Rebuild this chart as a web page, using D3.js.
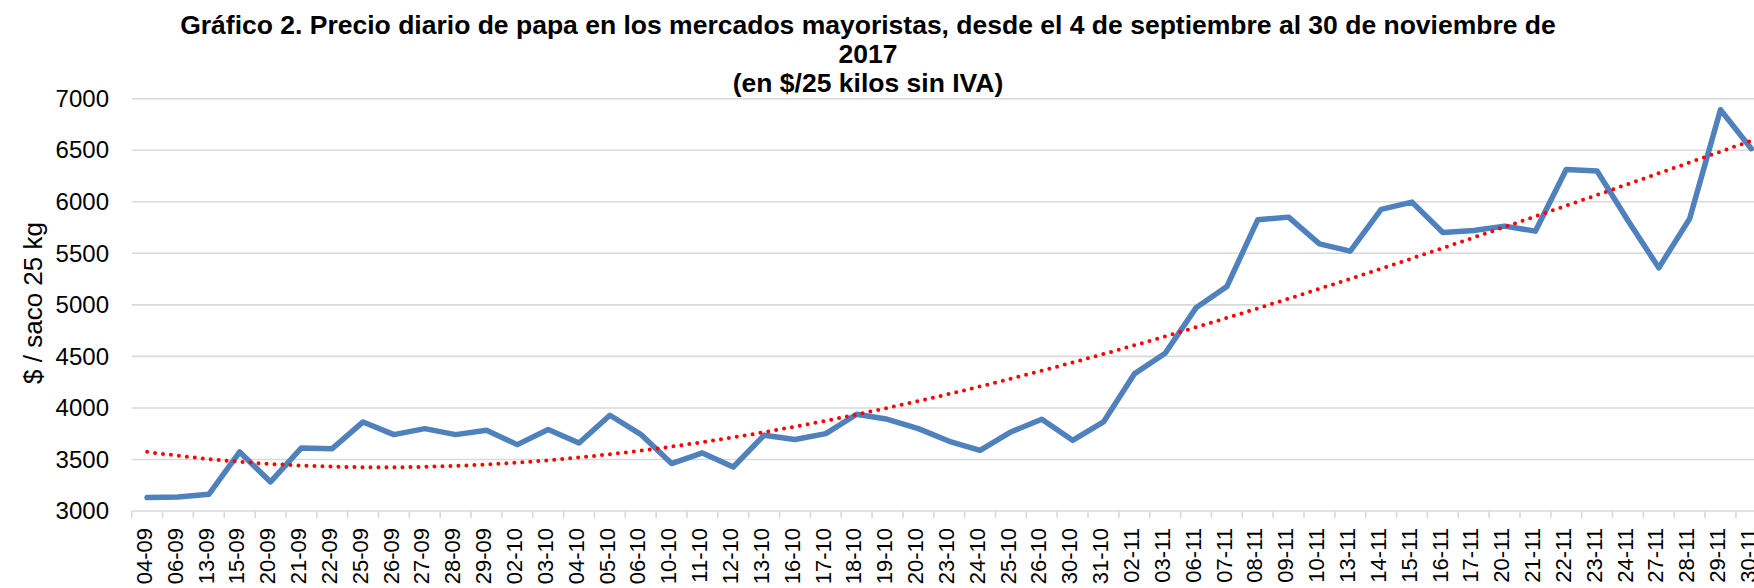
<!DOCTYPE html>
<html>
<head>
<meta charset="utf-8">
<script src="https://cdn.jsdelivr.net/npm/d3@7"></script>
<style>
  html, body { margin: 0; padding: 0; background: #fff; overflow: hidden; }
  svg { display: block; font-family: "Liberation Sans", Arial, sans-serif; }
</style>
</head>
<body>
<svg id="chart" width="1754" height="588"></svg>
<script>
const titleLines = [
  "Gráfico 2. Precio diario de papa en los mercados mayoristas, desde el 4 de septiembre al 30 de noviembre de",
  "2017",
  "(en $/25 kilos sin IVA)"
];
const yAxisTitle = "$ / saco 25 kg";

const categories = [
  "04-09","06-09","13-09","15-09","20-09","21-09","22-09","25-09","26-09","27-09","28-09","29-09",
  "02-10","03-10","04-10","05-10","06-10","10-10","11-10","12-10","13-10","16-10","17-10","18-10",
  "19-10","20-10","23-10","24-10","25-10","26-10","30-10","31-10",
  "02-11","03-11","06-11","07-11","08-11","09-11","10-11","13-11","14-11","15-11","16-11","17-11",
  "20-11","21-11","22-11","23-11","24-11","27-11","28-11","29-11","30-11"
];
const prices = [
  3130, 3135, 3162, 3573, 3282, 3612, 3605, 3864, 3741, 3799, 3741, 3783,
  3644, 3790, 3660, 3929, 3744, 3460, 3563, 3427, 3735, 3693, 3751, 3939,
  3890, 3799, 3676, 3589, 3767, 3890, 3686, 3864,
  4330, 4530, 4971, 5178, 5825, 5851, 5592, 5521, 5926, 5997, 5702, 5722,
  5764, 5715, 6314, 6298, 5819, 5359, 5835, 6893, 6515
];
const yTicks = [3000, 3500, 4000, 4500, 5000, 5500, 6000, 6500, 7000];
const trendOrder = 3;

const svg = d3.select("#chart");
const plotLeft = 131.7, bandW = 30.85;
const plotTop = 98.7, plotBottom = 511;

const x = d3.scaleBand().domain(categories).range([plotLeft, plotLeft + categories.length * bandW]).padding(0);
const y = d3.scaleLinear().domain([3000, 7000]).range([plotBottom, plotTop]);

// gridlines
svg.append("g").selectAll("line").data(yTicks).join("line")
  .attr("x1", plotLeft).attr("x2", 1754)
  .attr("y1", d => y(d)).attr("y2", d => y(d))
  .attr("stroke", "#d9d9d9").attr("stroke-width", 1.6);

// y axis labels
const yAxis = d3.axisLeft(y).tickValues(yTicks).tickSize(0).tickPadding(0).tickFormat(d3.format("d"));
const gy = svg.append("g").attr("transform", `translate(109,0)`).call(yAxis);
gy.select(".domain").remove();
gy.selectAll("text").attr("font-size", 24).attr("fill", "#000").attr("font-family", "Liberation Sans, Arial, sans-serif");

// x axis ticks (between categories)
const tickPos = categories.map(c => x(c)).concat([x(categories[categories.length - 1]) + bandW]);
svg.append("g").selectAll("line").data(tickPos).join("line")
  .attr("x1", d => d).attr("x2", d => d)
  .attr("y1", plotBottom).attr("y2", plotBottom + 7)
  .attr("stroke", "#d9d9d9").attr("stroke-width", 1.6);

// x axis labels
const xAxis = d3.axisBottom(x).tickSize(0).tickPadding(0);
const gx = svg.append("g").attr("transform", `translate(0,${plotBottom})`).call(xAxis);
gx.select(".domain").remove();
gx.selectAll("text")
  .attr("font-size", 22).attr("fill", "#000").attr("font-family", "Liberation Sans, Arial, sans-serif")
  .attr("text-anchor", "end")
  .attr("transform", "translate(-3,17) rotate(-90)")
  .attr("x", 0).attr("y", 0).attr("dy", "0.35em");

// price line
const line = d3.line().x((d, i) => x(categories[i]) + bandW / 2).y(d => y(d));
svg.append("path").datum(prices)
  .attr("d", line)
  .attr("fill", "none").attr("stroke", "#4f81bd").attr("stroke-width", 5.5)
  .attr("stroke-linejoin", "round").attr("stroke-linecap", "round");

// polynomial trendline (least squares) from the data
function polyFit(ys, order) {
  const n = ys.length, m = order + 1;
  const t = ys.map((_, i) => (i + 1) / n);
  const A = Array.from({length: m}, () => new Array(m + 1).fill(0));
  for (let r = 0; r < m; r++) {
    for (let c = 0; c < m; c++) A[r][c] = d3.sum(t, v => Math.pow(v, r + c));
    A[r][m] = d3.sum(t, (v, i) => ys[i] * Math.pow(v, r));
  }
  for (let p = 0; p < m; p++) {
    let best = p;
    for (let r = p + 1; r < m; r++) if (Math.abs(A[r][p]) > Math.abs(A[best][p])) best = r;
    [A[p], A[best]] = [A[best], A[p]];
    for (let r = 0; r < m; r++) {
      if (r === p) continue;
      const f = A[r][p] / A[p][p];
      for (let c = p; c <= m; c++) A[r][c] -= f * A[p][c];
    }
  }
  const coef = A.map((row, i) => row[m] / row[i]);
  return i => { const v = (i + 1) / n; return coef.reduce((s, c, k) => s + c * Math.pow(v, k), 0); };
}
const trend = polyFit(prices, trendOrder);
const idx = d3.scaleLinear().domain([0, categories.length - 1])
  .range([x(categories[0]) + bandW / 2, x(categories[categories.length - 1]) + bandW / 2]);
const samples = d3.range(0, categories.length - 1 + 0.001, 0.1);
svg.append("path").datum(samples)
  .attr("d", d3.line().x(d => idx(d)).y(d => y(trend(d))))
  .attr("fill", "none").attr("stroke", "#ff0000").attr("stroke-width", 4)
  .attr("stroke-linecap", "round").attr("stroke-dasharray", "0 8");

// title
const title = svg.append("text").attr("text-anchor", "middle").attr("font-weight", "bold")
  .attr("font-size", 26.5).attr("fill", "#000");
titleLines.forEach((t, i) => {
  title.append("tspan").attr("x", 868).attr("y", 33.5 + i * 29).text(t);
});

// y axis title
svg.append("text")
  .attr("transform", "translate(42,303) rotate(-90)")
  .attr("text-anchor", "middle").attr("font-size", 26).attr("fill", "#000")
  .text(yAxisTitle);
</script>
</body>
</html>
